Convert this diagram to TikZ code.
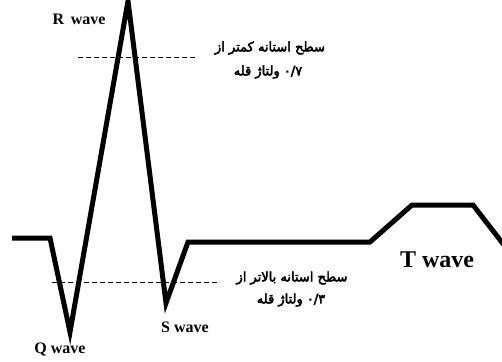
\documentclass[tikz,border=0pt]{standalone}
\usepackage{fontspec}
\setmainfont{Liberation Serif}
\newfontfamily\fafont[Script=Arabic,FakeBold=3.5]{DejaVu Sans}
\newfontfamily\fanum[FakeBold=3.5]{DejaVu Sans}
\TeXXeTstate=1
\begin{document}
\begin{tikzpicture}[x=1pt,y=-1pt,
  wavelabel/.style={font=\fontsize{16}{18}\selectfont\bfseries, inner sep=0pt},
  bigwavelabel/.style={font=\fontsize{24}{26}\selectfont\bfseries, inner sep=0pt},
  fatext/.style={font=\fafont\fontsize{13}{14}\selectfont, inner sep=0pt},
  level/.style={line width=0.7pt, dash pattern=on 5pt off 3pt},
  signal/.style={line width=5pt, line join=miter, miter limit=20}]
\useasboundingbox[fill=white] (0,0) rectangle (502,361);
% waveform points
\coordinate (p0) at (12,238);
\coordinate (p1) at (50,238);
\coordinate (q) at (70,332);
\coordinate (r) at (128,1);
\coordinate (s) at (166,303);
\coordinate (p2) at (188,242);
\coordinate (p3) at (370,242);
\coordinate (t1) at (412,205);
\coordinate (t2) at (473,205);
\coordinate (p4) at (504,245);
\draw[signal] (p0) -- (p1) -- (q) -- (r) -- (s) -- (p2) -- (p3) -- (t1) -- (t2) -- (p4);
% threshold levels
\coordinate (u1) at (78,57);
\coordinate (u2) at (196,57);
\coordinate (l1) at (52,282);
\coordinate (l2) at (218,282);
\draw[level] (u1) -- (u2);
\draw[level] (l1) -- (l2);
% labels
\node[wavelabel] (rl) at (79,19) {R\,\ wave};
\node[wavelabel] (ql) at (60,349) {Q wave};
\node[wavelabel] (sl) at (185,327) {S wave};
\node[bigwavelabel] (tl) at (437,260) {T wave};
\node[fatext] (ua) at (270,48) {\beginR سطح استانه کمتر از\endR};
\node[fatext] (ub) at (268,72) {\hbox{\beginR ولتاژ قله\endR}\ \hbox{\fanum ۰/۷}};
\node[fatext] (la) at (292,278) {\beginR سطح استانه بالاتر از\endR};
\node[fatext] (lb) at (291,300) {\hbox{\beginR ولتاژ قله\endR}\ \hbox{\fanum ۰/۳}};
\end{tikzpicture}
\end{document}
